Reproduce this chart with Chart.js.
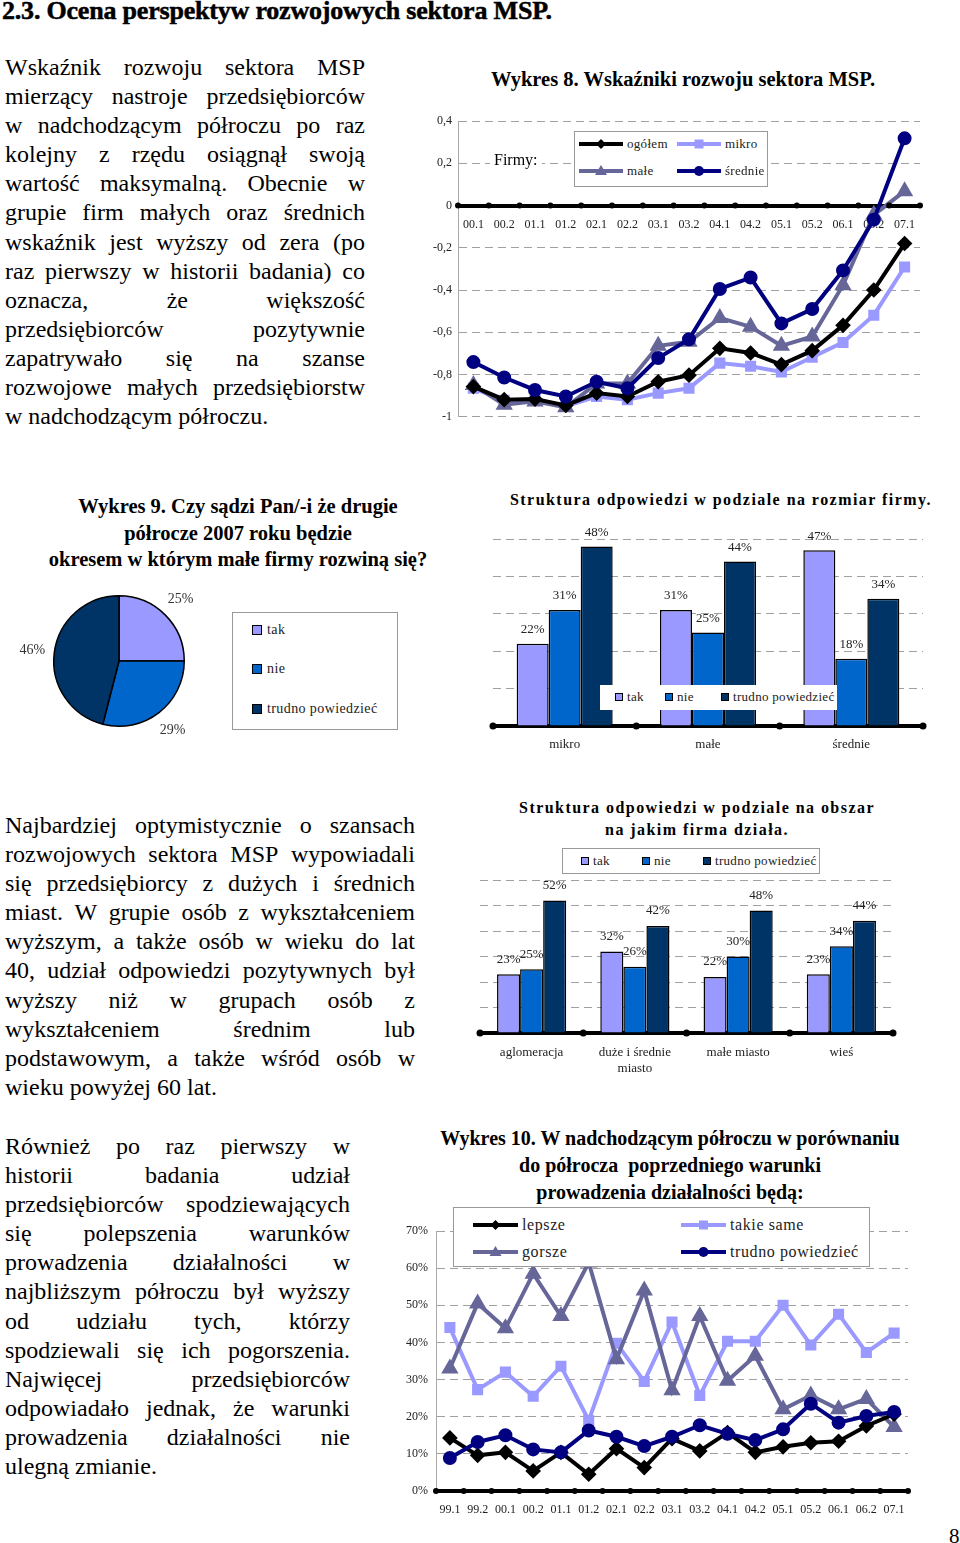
<!DOCTYPE html>
<html><head><meta charset="utf-8">
<script src="https://cdn.jsdelivr.net/npm/chart.js@4/dist/chart.umd.min.js"></script>
<style>
html,body{margin:0;padding:0}
body{width:960px;height:1543px;position:relative;background:#fff;font-family:"Liberation Serif","Times New Roman",serif;color:#000;overflow:hidden}
.abs{position:absolute}
.ttl{position:absolute;font-weight:700;text-align:center;white-space:nowrap}
.para{position:absolute}
.lg{position:absolute;background:#fff;box-sizing:border-box}
.lgi{position:absolute;display:flex;align-items:center;white-space:nowrap}
.sq{display:inline-block;box-sizing:border-box;border:1px solid #000}
canvas{position:absolute}
h1{margin:0;position:absolute;left:2px;top:-4px;font-size:26px;font-weight:700;letter-spacing:-0.2px;white-space:nowrap;-webkit-text-stroke:0.5px #000;font-family:"Liberation Serif","Times New Roman",serif}
</style></head>
<body>
<h1>2.3. Ocena perspektyw rozwojowych sektora MSP.</h1>

<div class="ttl" style="left:433px;width:500px;top:67px;font-size:20.5px;line-height:25px">Wykres 8. Wskaźniki rozwoju sektora MSP.</div>
<canvas id="c8" width="500" height="330" style="left:430px;top:100px"></canvas>

<div class="ttl" style="left:38px;width:400px;top:493px;font-size:20.5px;line-height:26.5px">Wykres 9. Czy sądzi Pan/-i że drugie<br>półrocze 2007 roku będzie<br>okresem w którym małe firmy rozwiną się?</div>
<canvas id="c9" width="238" height="152" style="left:0px;top:585px"></canvas>

<div class="ttl" style="left:471px;width:500px;top:489px;font-size:16px;line-height:21px;letter-spacing:1.45px">Struktura odpowiedzi w podziale na rozmiar firmy.</div>
<canvas id="cb1" width="460" height="245" style="left:480px;top:515px"></canvas>

<div class="ttl" style="left:447px;width:500px;top:797px;font-size:16px;line-height:22px;letter-spacing:1.45px">Struktura odpowiedzi w podziale na obszar<br>na jakim firma działa.</div>
<canvas id="cb2" width="440" height="215" style="left:470px;top:870px"></canvas>

<div class="ttl" style="left:420px;width:500px;top:1125px;font-size:20px;line-height:27px">Wykres 10. W nadchodzącym półroczu w porównaniu<br>do półrocza&nbsp; poprzedniego warunki<br>prowadzenia działalności będą:</div>
<canvas id="c10" width="520" height="305" style="left:400px;top:1215px"></canvas>

<div class="abs" style="left:949px;top:1524px;font-size:21px;line-height:24px">8</div>

<script>
// ================= DATA =================
const para1 = ['Wskaźnik rozwoju sektora MSP','mierzący nastroje przedsiębiorców','w nadchodzącym półroczu po raz','kolejny z rzędu osiągnął swoją','wartość maksymalną. Obecnie w','grupie firm małych oraz średnich','wskaźnik jest wyższy od zera (po','raz pierwszy w historii badania) co','oznacza, że większość','przedsiębiorców pozytywnie','zapatrywało się na szanse','rozwojowe małych przedsiębiorstw','w nadchodzącym półroczu.'];
const para2 = ['Najbardziej optymistycznie o szansach','rozwojowych sektora MSP wypowiadali','się przedsiębiorcy z dużych i średnich','miast. W grupie osób z wykształceniem','wyższym, a także osób w wieku do lat','40, udział odpowiedzi pozytywnych był','wyższy niż w grupach osób z','wykształceniem średnim lub','podstawowym, a także wśród osób w','wieku powyżej 60 lat.'];
const para3 = ['Również po raz pierwszy w','historii badania udział','przedsiębiorców spodziewających','się polepszenia warunków','prowadzenia działalności w','najbliższym półroczu był wyższy','od udziału tych, którzy','spodziewali się ich pogorszenia.','Najwięcej przedsiębiorców','odpowiadało jednak, że warunki','prowadzenia działalności nie','ulegną zmianie.'];

// Wykres 8
const w8Labels = ['00.1','00.2','01.1','01.2','02.1','02.2','03.1','03.2','04.1','04.2','05.1','05.2','06.1','06.2','07.1'];
const w8Names = ['ogółem','mikro','małe','średnie'];
const w8Ogolem = [-0.857,-0.919,-0.916,-0.946,-0.888,-0.904,-0.834,-0.803,-0.676,-0.698,-0.753,-0.687,-0.567,-0.400,-0.180];
const w8Mikro = [-0.865,-0.922,-0.922,-0.950,-0.904,-0.919,-0.888,-0.865,-0.746,-0.761,-0.788,-0.718,-0.648,-0.519,-0.291];
const w8Male = [-0.850,-0.943,-0.927,-0.955,-0.842,-0.842,-0.664,-0.645,-0.532,-0.574,-0.664,-0.620,-0.377,-0.044,0.068];
const w8Srednie = [-0.741,-0.814,-0.873,-0.904,-0.834,-0.865,-0.722,-0.633,-0.395,-0.341,-0.558,-0.490,-0.307,-0.067,0.318];
const w8Min = -1, w8Max = 0.4, w8Step = 0.2;

// Wykres 9
const w9Labels = ['tak','nie','trudno powiedzieć'];
const w9Values = [25,29,46];

// Struktura wg rozmiaru firmy
const b1Cats = ['mikro','małe','średnie'];
const b1Tak = [22,31,47];
const b1Nie = [31,25,18];
const b1Trudno = [48,44,34];

// Struktura wg obszaru
const b2Cats = ['aglomeracja',['duże i średnie','miasto'],'małe miasto','wieś'];
const b2Tak = [23,32,22,23];
const b2Nie = [25,26,30,34];
const b2Trudno = [52,42,48,44];
const ansNames = ['tak','nie','trudno powiedzieć'];

// Wykres 10
const w10Labels = ['99.1','99.2','00.1','00.2','01.1','01.2','02.1','02.2','03.1','03.2','04.1','04.2','05.1','05.2','06.1','06.2','07.1'];
const w10Names = ['lepsze','takie same','gorsze','trudno powiedzieć'];
const w10Lepsze = [14.3,9.6,10.4,5.4,10.4,4.5,11.4,6.3,14.1,10.8,15.7,10.4,11.9,13.0,13.4,17.5,20.7];
const w10Takie = [44.0,27.3,32.0,25.5,33.6,19.0,39.8,29.5,45.5,25.7,40.3,40.3,50.0,39.3,47.6,37.3,42.5];
const w10Gorsze = [33.0,50.5,43.8,58.5,47.1,61.5,35.5,54.0,27.1,47.1,29.7,36.4,22.0,25.7,22.0,24.8,17.2];
const w10Trudno = [8.9,13.2,15.0,11.2,10.4,16.3,14.6,12.1,14.6,17.7,15.4,13.7,16.6,23.5,18.4,20.2,21.3];

// ================= STYLE =================
const C_LAV = '#9999ff', C_BLUE = '#0066cc', C_NAVY = '#003366', C_SLATE = '#666699', C_DNAVY = '#000080';
const GRID = '#a0a0a0';
const FONT = "'Liberation Serif','Times New Roman',serif";

// ================= TEXT =================
function para(lines, left, top, width, lh, size){
  const box = document.createElement('div');
  box.className = 'para';
  box.style.cssText = `left:${left}px;top:${top}px;width:${width}px;font-size:${size}px;`;
  lines.forEach((ln,i)=>{
    const d = document.createElement('div');
    d.style.height = lh+'px'; d.style.lineHeight = lh+'px'; d.style.whiteSpace='nowrap';
    if (i === lines.length-1) { d.textContent = ln; }
    else {
      d.style.display='flex'; d.style.justifyContent='space-between';
      ln.split(' ').forEach(w=>{const s=document.createElement('span'); s.textContent=w; d.appendChild(s);});
    }
    box.appendChild(d);
  });
  document.body.appendChild(box);
}
para(para1, 5, 53, 360, 29.1, 24);
para(para2, 5, 811, 410, 29.1, 24);
para(para3, 5, 1132, 345, 29.1, 24);

// ================= LEGENDS =================
function lineSample(style, color, w){
  const cx=w/2, cy=7; let m='';
  if(style==='rectRot') m=`<polygon points="${cx},${cy-5} ${cx+5},${cy} ${cx},${cy+5} ${cx-5},${cy}" fill="${color}"/>`;
  else if(style==='rect') m=`<rect x="${cx-4.5}" y="${cy-4.5}" width="9" height="9" fill="${color}"/>`;
  else if(style==='triangle') m=`<polygon points="${cx},${cy-6} ${cx+6},${cy+4} ${cx-6},${cy+4}" fill="${color}"/>`;
  else m=`<circle cx="${cx}" cy="${cy}" r="5" fill="${color}"/>`;
  return `<svg width="${w}" height="14"><line x1="0" y1="7" x2="${w}" y2="7" stroke="${color}" stroke-width="4"/>${m}</svg>`;
}
function legend(box, items, border){
  const d = document.createElement('div');
  d.className='lg';
  d.style.cssText += `left:${box.l}px;top:${box.t}px;width:${box.w}px;height:${box.h}px;` + (border?'border:1px solid #999;':'');
  items.forEach(it=>{
    const e = document.createElement('div');
    e.className='lgi';
    e.style.cssText += `left:${it.x}px;top:${it.y-9}px;height:18px;font-size:${box.fs}px;letter-spacing:${box.ls||0}px;color:#222`;
    const mk = it.square
      ? `<span class="sq" style="width:${box.sq}px;height:${box.sq}px;background:${it.color}"></span>`
      : lineSample(it.style, it.color, box.lw);
    e.innerHTML = mk + `<span style="margin-left:${box.gap}px">${it.text}</span>`;
    d.appendChild(e);
  });
  document.body.appendChild(d);
}

// ================= PLUGINS =================
const axisDots = {
  id:'axisDots',
  afterDatasetsDraw(chart, args, opts){
    if(!opts || !opts.enabled) return;
    const x = chart.scales.x, ctx = chart.ctx;
    const yPix = opts.atZero ? chart.scales.y.getPixelForValue(0) : x.top;
    const n = x.ticks.length;
    ctx.save(); ctx.fillStyle = '#000';
    for(let i=0;i<=n;i++){
      const px = i===0 ? x.left : (i===n ? x.right : (x.getPixelForTick(i-1)+x.getPixelForTick(i))/2);
      ctx.beginPath(); ctx.arc(px, yPix, opts.r||3, 0, Math.PI*2); ctx.fill();
    }
    ctx.restore();
  }
};
const barLabels = {
  id:'barLabels',
  afterDatasetsDraw(chart, args, opts){
    const ctx = chart.ctx; ctx.save();
    ctx.font = `${opts.size||13}px ${FONT}`; ctx.fillStyle = '#222';
    ctx.textAlign='center'; ctx.textBaseline='middle';
    chart.data.datasets.forEach((ds,i)=>{
      chart.getDatasetMeta(i).data.forEach((el,j)=>{ ctx.fillText(ds.data[j]+'%', el.x, el.y - (opts.offset||14)); });
    });
    ctx.restore();
  }
};
const pieLabels = {
  id:'pieLabels',
  afterDatasetsDraw(chart){
    const ctx = chart.ctx; ctx.save();
    ctx.font = `14px ${FONT}`; ctx.fillStyle = '#333'; ctx.textAlign='center'; ctx.textBaseline='middle';
    const ds = chart.data.datasets[0];
    chart.getDatasetMeta(0).data.forEach((arc,i)=>{
      const mid = (arc.startAngle+arc.endAngle)/2, r = arc.outerRadius + 22;
      ctx.fillText(ds.data[i]+'%', arc.x + Math.cos(mid)*r, arc.y + Math.sin(mid)*r);
    });
    ctx.restore();
  }
};

Chart.defaults.font.family = FONT;
Chart.defaults.color = '#222';

// ================= WYKRES 8 =================
const w8Styles = [
  {color:'#000000', style:'rectRot', r:5, order:1},
  {color:C_LAV, style:'rect', r:5, order:3},
  {color:C_SLATE, style:'triangle', r:6, order:2},
  {color:C_DNAVY, style:'circle', r:5, order:0}
];
const w8Data = [w8Ogolem, w8Mikro, w8Male, w8Srednie];
new Chart(document.getElementById('c8'), {
  type:'line',
  data:{labels:w8Labels, datasets: w8Names.map((n,i)=>({
    label:n, data:w8Data[i], borderColor:w8Styles[i].color, backgroundColor:w8Styles[i].color,
    pointStyle:w8Styles[i].style, pointRadius:w8Styles[i].r, borderWidth:4, order:w8Styles[i].order, tension:0
  }))},
  options:{
    responsive:false, animation:false, devicePixelRatio:1,
    layout:{padding:{top:21,bottom:8,left:0,right:10}},
    plugins:{legend:{display:false}, tooltip:{enabled:false}, axisDots:{enabled:true, atZero:true, r:3}},
    scales:{
      x:{position:{y:0}, offset:true, grid:{display:false, drawTicks:false}, border:{color:'#000', width:4},
         ticks:{padding:12, font:{size:12}, maxRotation:0, autoSkip:false, color:'#222'}},
      y:{min:w8Min, max:w8Max, ticks:{stepSize:w8Step, padding:6, font:{size:12}, color:'#222',
           callback:v=>{const r=Math.round(v*10)/10; return r===0?'0':String(r).replace('.',',');}},
         grid:{color:GRID, drawTicks:false}, border:{color:'#aaa', width:1, dash:[8,5]},
         afterFit(s){s.width=28;}}
    }
  },
  plugins:[axisDots]
});
legend({l:574,t:131,w:194,h:56,fs:13,ls:0.3,lw:44,gap:4}, w8Names.map((n,i)=>({
  text:n, color:w8Styles[i].color, style:w8Styles[i].style, x:[4,102][i%2], y:[12,39][Math.floor(i/2)]
})), true);
(function(){const f=document.createElement('div'); f.className='abs';
 f.style.cssText='left:490px;top:150px;font-size:16px;line-height:20px;background:#fff;padding:0 4px'; f.textContent='Firmy:'; document.body.appendChild(f);})();

// ================= WYKRES 9 (pie) =================
const ansColors = [C_LAV, C_BLUE, C_NAVY];
new Chart(document.getElementById('c9'), {
  type:'pie',
  data:{labels:w9Labels, datasets:[{data:w9Values, backgroundColor:ansColors, borderColor:'#000', borderWidth:1.5}]},
  options:{responsive:false, animation:false, devicePixelRatio:1,
    layout:{padding:{left:53,right:53,top:10,bottom:10}},
    plugins:{legend:{display:false}, tooltip:{enabled:false}}},
  plugins:[pieLabels]
});
legend({l:232,t:612,w:166,h:118,fs:14,ls:0.4,sq:10,gap:5}, w9Labels.map((n,i)=>({
  text:n, color:ansColors[i], square:true, x:19, y:[17,56,96][i]
})), true);

// ================= BAR CHARTS =================
function barChart(id, cats, series, yMax, pad, xH, tickPad, lblOff){
  return new Chart(document.getElementById(id), {
    type:'bar',
    data:{labels:cats, datasets: series.map((d,i)=>({label:ansNames[i], data:d, backgroundColor:ansColors[i],
      borderColor:'#000', borderWidth:1.5, categoryPercentage:0.67, barPercentage:1}))},
    options:{responsive:false, animation:false, devicePixelRatio:1,
      layout:{padding:pad},
      plugins:{legend:{display:false}, tooltip:{enabled:false}, axisDots:{enabled:true, r:3.5}, barLabels:{offset:lblOff, size:13}},
      scales:{
        x:{grid:{display:false, drawTicks:false}, border:{color:'#000', width:4},
           ticks:{padding:tickPad, font:{size:13}, color:'#222', maxRotation:0, autoSkip:false}, afterFit(s){s.height=xH;}},
        y:{min:0, max:yMax, ticks:{display:false, stepSize:10}, grid:{color:GRID, drawTicks:false},
           border:{display:false, dash:[8,5]}, afterFit(s){s.width=0;}}
      }},
    plugins:[axisDots, barLabels]
  });
}
barChart('cb1', b1Cats, [b1Tak,b1Nie,b1Trudno], 50, {left:13,right:17,top:24,bottom:0}, 34, 11, 14);
legend({l:600,t:685,w:237,h:25,fs:13,ls:0.3,sq:8,gap:4}, ansNames.map((n,i)=>({
  text:n, color:ansColors[i], square:true, x:[15,65,121][i], y:12
})), false);

barChart('cb2', b2Cats, [b2Tak,b2Nie,b2Trudno], 60, {left:10,right:17,top:10,bottom:0}, 52, 12, 15);
legend({l:562,t:848,w:258,h:26,fs:13,ls:0.3,sq:8,gap:4}, ansNames.map((n,i)=>({
  text:n, color:ansColors[i], square:true, x:[18,79,140][i], y:12
})), true);

// ================= WYKRES 10 =================
const w10Styles = [
  {color:'#000000', style:'rectRot', r:5, order:1},
  {color:C_LAV, style:'rect', r:5, order:3},
  {color:C_SLATE, style:'triangle', r:6, order:2},
  {color:C_DNAVY, style:'circle', r:5, order:0}
];
const w10Data = [w10Lepsze, w10Takie, w10Gorsze, w10Trudno];
new Chart(document.getElementById('c10'), {
  type:'line',
  data:{labels:w10Labels, datasets: w10Names.map((n,i)=>({
    label:n, data:w10Data[i], borderColor:w10Styles[i].color, backgroundColor:w10Styles[i].color,
    pointStyle:w10Styles[i].style, pointRadius:w10Styles[i].r, borderWidth:4, order:w10Styles[i].order, tension:0
  }))},
  options:{
    responsive:false, animation:false, devicePixelRatio:1,
    layout:{padding:{top:16,bottom:0,left:0,right:12}},
    plugins:{legend:{display:false}, tooltip:{enabled:false}, axisDots:{enabled:true, r:3}},
    scales:{
      x:{offset:true, grid:{display:false, drawTicks:false}, border:{color:'#000', width:4},
         ticks:{padding:12, font:{size:12}, maxRotation:0, autoSkip:false, color:'#222'}, afterFit(s){s.height=29;}},
      y:{min:0, max:70, ticks:{stepSize:10, padding:8, font:{size:12}, color:'#222', callback:v=>v+'%'},
         grid:{color:GRID, drawTicks:false}, border:{color:'#aaa', width:1, dash:[8,5]},
         afterFit(s){s.width=36;}}
    }
  },
  plugins:[axisDots]
});
legend({l:453,t:1207,w:417,h:60,fs:16,ls:0.6,lw:45,gap:4}, w10Names.map((n,i)=>({
  text:n, color:w10Styles[i].color, style:w10Styles[i].style, x:[19,227][i%2], y:[17,44][Math.floor(i/2)]
})), true);
</script>
</body></html>
